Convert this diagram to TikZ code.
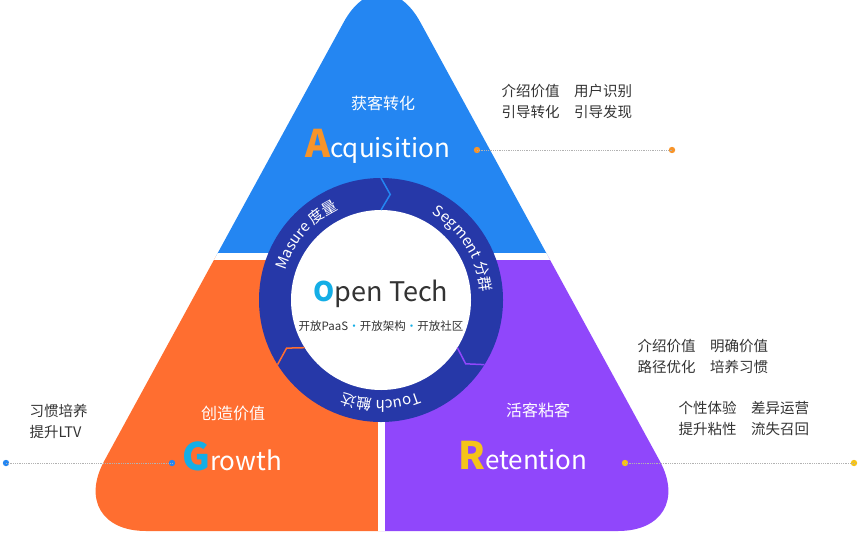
\documentclass[tikz,border=0pt]{standalone}
\usepackage{fontspec}
\setmainfont{Noto Sans CJK SC}
\newfontfamily\cjk{Noto Sans CJK SC}
\usetikzlibrary{calc,decorations.text}
\definecolor{accblue}{HTML}{2486F2}
\definecolor{groorange}{HTML}{FF6E30}
\definecolor{retpurple}{HTML}{9047FB}
\definecolor{ringblue}{HTML}{2638A8}
\definecolor{letcyan}{HTML}{14AEE6}
\definecolor{letorange}{HTML}{F7942A}
\definecolor{letyellow}{HTML}{F5C319}
\definecolor{txtgray}{HTML}{333333}
\tikzset{
  stage/.style={text=white,font=\cjk\fontsize{16}{18}\selectfont},
  brand/.style={text=white,font=\cjk\fontsize{26}{28}\selectfont,inner sep=0pt},
  note/.style={text=txtgray,font=\cjk\fontsize{14.5}{21}\selectfont,align=left},
  ringtext/.style={decorate,decoration={text along path,text align=center,
    text color=white,text={#1}}},
  gap/.style={white,line width=7pt},
  dotline/.style={densely dotted,gray!60,line width=0.8pt}
}
\begin{document}
\begin{tikzpicture}[x=1pt,y=1pt]
  \useasboundingbox (0,0) rectangle (859,-533);
  % triangle in three parts
  \begin{scope}
    \clip[rounded corners=80] (382,48) -- (698,-531) -- (66,-531) -- cycle;
    \fill[accblue] (0,50) rectangle (859,-256);
    \fill[groorange] (0,-256) rectangle (381,-540);
    \fill[retpurple] (381,-256) rectangle (859,-540);
    \draw[gap] (0,-256) -- (859,-256);
    \draw[gap] (381,-256) -- (381,-540);
  \end{scope}
  % ring
  \coordinate (C) at (381,-300);
  \fill[ringblue] (C) circle (122);
  \fill[white] (C) circle (90);
  \draw[accblue,line width=1.5pt] ($(C)+(90:122)$) -- ($(C)+(85:106)$) -- ($(C)+(90:90)$);
  \draw[retpurple,line width=1.5pt] ($(C)+(-32:122)$) -- ($(C)+(-37:106)$) -- ($(C)+(-32:90)$);
  \draw[groorange,line width=1.5pt] ($(C)+(212:122)$) -- ($(C)+(207:106)$) -- ($(C)+(212:90)$);
  \path[ringtext={|\cjk\fontsize{15}{15}\selectfont|Masure 度量}]
    ($(C)+(178:100)$) arc[start angle=178,end angle=100,radius=100];
  \path[ringtext={|\cjk\fontsize{15}{15}\selectfont|Segment 分群}]
    ($(C)+(72:100)$) arc[start angle=72,end angle=-8,radius=100];
  \path[ringtext={|\cjk\fontsize{15}{15}\selectfont|Touch 触达}]
    ($(C)+(-55:100)$) arc[start angle=-55,end angle=-125,radius=100];
  % centre
  \node[inner sep=0pt,font=\cjk\fontsize{27}{30}\selectfont] (title) at (381,-294)
    {\textcolor{letcyan}{\bfseries O}\textcolor{txtgray}{pen Tech}};
  \node[inner sep=0pt,text=txtgray,font=\cjk\fontsize{11.5}{13}\selectfont] (sub) at (381,-326)
    {开放PaaS\textcolor{letcyan}{·}开放架构\textcolor{letcyan}{·}开放社区};
  % acquisition
  \node[stage] (acqcn) at (383,-103) {获客转化};
  \node[brand,anchor=west] (acq) at (305,-146)
    {\textcolor{letorange}{\bfseries\fontsize{38}{38}\selectfont A}cquisition};
  \fill[letorange] (477,-150) circle (3.2) coordinate (acqa);
  \fill[letorange] (672,-150) circle (3.2) coordinate (acqb);
  \draw[dotline] (acqa) -- (acqb);
  \node[note,anchor=west] (acqnote) at (498,-101) {介绍价值\quad 用户识别\\引导转化\quad 引导发现};
  % growth
  \node[stage] (grocn) at (233,-413) {创造价值};
  \node[brand,anchor=west] (gro) at (182,-456)
    {\textcolor{letcyan}{\bfseries\fontsize{38}{38}\selectfont G}rowth};
  \fill[accblue] (6,-463) circle (3.2) coordinate (groa);
  \fill[accblue] (172,-463) circle (3.2) coordinate (grob);
  \draw[dotline] (groa) -- (grob);
  \node[note,anchor=west] (gronote) at (26,-421) {习惯培养\\提升LTV};
  % retention
  \node[stage] (retcn) at (538,-410) {活客粘客};
  \node[brand,anchor=west] (ret) at (458,-456)
    {\textcolor{letyellow}{\bfseries\fontsize{38}{38}\selectfont R}etention};
  \fill[letyellow] (625,-463) circle (3.2) coordinate (reta);
  \fill[letyellow] (854,-463) circle (3.2) coordinate (retb);
  \draw[dotline] (reta) -- (retb);
  \node[note,anchor=west] (retnote1) at (634,-356) {介绍价值\quad 明确价值\\路径优化\quad 培养习惯};
  \node[note,anchor=west] (retnote2) at (675,-418) {个性体验\quad 差异运营\\提升粘性\quad 流失召回};
\end{tikzpicture}
\end{document}
